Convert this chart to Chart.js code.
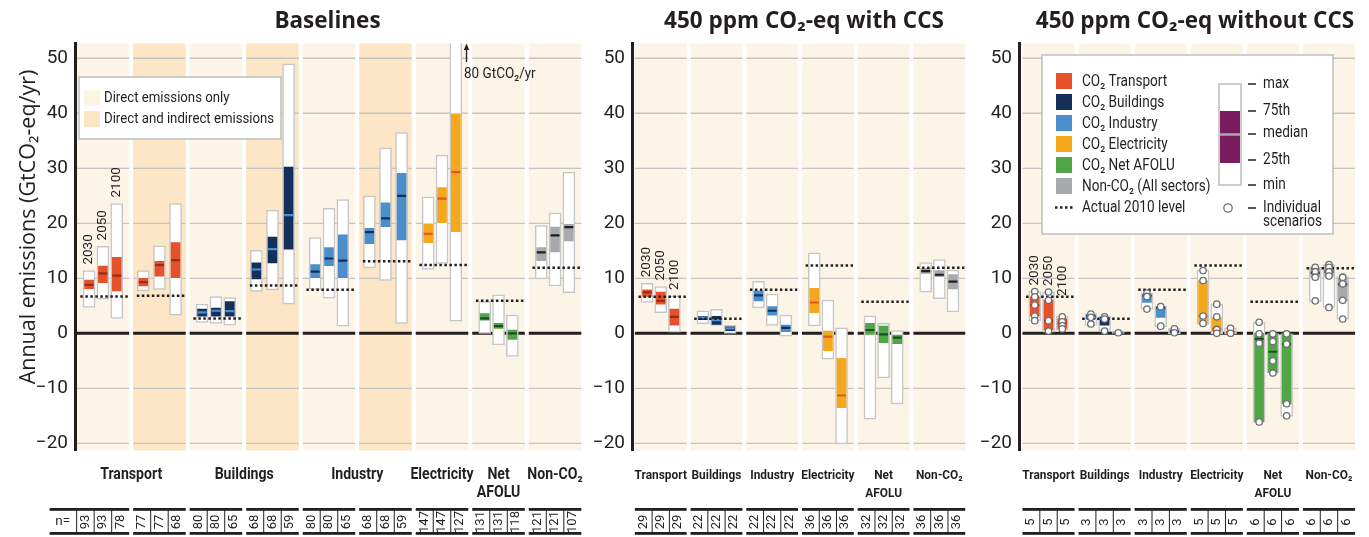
<!DOCTYPE html>
<html>
<head>
<meta charset="utf-8">
<script src="https://cdn.jsdelivr.net/npm/chart.js@4.4.1/dist/chart.umd.min.js"></script>
<style>
  html, body { margin: 0; padding: 0; background: #fff; }
  #wrap { position: relative; width: 1369px; height: 537px; overflow: hidden; }
  #wrap canvas { position: absolute; top: 0; }
</style>
</head>
<body>
<div id="wrap">
  <canvas id="baseline-chart" width="590" height="537" style="left:0px"></canvas>
  <canvas id="ccs-chart" width="385" height="537" style="left:590px"></canvas>
  <canvas id="noccs-chart" width="391" height="537" style="left:978px"></canvas>
</div>
<script>
// ---- data ----
const years = ["2030", "2050", "2100"];
const yTicks = [-20, -10, 0, 10, 20, 30, 40, 50];

// Baselines: columns = Transport (direct, indirect), Buildings (d, i), Industry (d, i), Electricity, Net AFOLU, Non-CO2
const baseSectors = ["transport", "transport", "buildings", "buildings", "industry", "industry", "electricity", "afolu", "nonco2"];
const baseIndirect = [false, true, false, true, false, true, false, false, false];
const baseMin = [[4.7, 6.2, 2.7], [7.7, 8.0, 3.3], [2.0, 1.8, 1.5], [7.6, 7.9, 5.3], [8.0, 6.4, 1.3], [11.9, 9.6, 1.8], [11.6, 12.7, 2.2], [0.0, -2.1, -4.2], [9.9, 8.6, 7.4]];
const baseQ25 = [[8.1, 9.2, 7.7], [8.6, 10.4, 10.1], [3.1, 3.1, 3.1], [9.9, 12.8, 15.3], [10.1, 12.3, 10.1], [16.3, 19.4, 17.0], [16.5, 20.1, 18.5], [2.4, 0.9, -1.1], [13.2, 14.8, 16.8]];
const baseMed = [[8.8, 10.9, 10.5], [9.3, 12.4, 13.3], [3.8, 4.1, 4.05], [11.6, 15.3, 21.5], [11.2, 13.6, 13.2], [18.4, 20.9, 25.0], [18.1, 24.5, 29.3], [2.7, 1.3, 0.0], [14.7, 17.8, 19.3]];
const baseQ75 = [[9.7, 12.2, 13.8], [10.0, 13.1, 16.5], [4.4, 4.6, 5.75], [12.8, 17.5, 30.2], [12.5, 15.6, 17.9], [19.1, 23.7, 29.1], [19.9, 26.5, 39.9], [3.6, 1.8, 0.6], [15.6, 19.3, 19.8]];
const baseMax = [[11.4, 15.8, 23.6], [11.4, 15.9, 23.6], [5.3, 6.7, 6.5], [15.1, 22.4, 49.0], [17.4, 22.7, 24.3], [25.0, 33.7, 36.5], [24.8, 32.4, 80], [5.75, 7.0, 3.3], [19.6, 21.9, 29.3]];
const base2010 = [6.7, 6.85, 2.7, 8.7, 7.9, 13.1, 12.4, 5.9, 11.9];
const baseN = [[93, 93, 78], [77, 77, 68], [80, 80, 65], [68, 68, 59], [80, 80, 65], [68, 68, 59], [147, 147, 127], [131, 131, 118], [121, 121, 107]];
const baseLabels = [["Transport"], ["Buildings"], ["Industry"], ["Electricity"], ["Net", "AFOLU"], ["Non-CO\u2082"]];
const baseLabelCols = [[0, 1], [2, 3], [4, 5], [6], [7], [8]];

// 450 ppm, sectors for the two mitigation panels
const mitSectors = ["transport", "buildings", "industry", "electricity", "afolu", "nonco2"];
const mitIndirect = [false, false, false, false, false, false];
const mitLabels = [["Transport"], ["Buildings"], ["Industry"], ["Electricity"], ["Net", "AFOLU"], ["Non-CO\u2082"]];
const mitLabelCols = [[0], [1], [2], [3], [4], [5]];

// 450 ppm with CCS
const ccsMin = [[5.6, 3.75, 0.2], [1.75, 1.45, 0.0], [4.6, 1.45, -0.5], [1.35, -4.7, -20.1], [-15.6, -8.1, -12.85], [7.5, 6.3, 3.9]];
const ccsQ25 = [[6.7, 5.3, 1.5], [2.5, 1.6, 0.5], [5.9, 3.3, 0.3], [3.75, -3.15, -13.5], [-0.2, -1.7, -1.9], [10.9, 10.3, 8.05]];
const ccsMed = [[7.45, 5.9, 3.0], [2.9, 2.4, 0.9], [6.9, 4.1, 1.0], [5.6, -0.6, -11.3], [0.6, -0.2, -0.8], [11.3, 10.65, 9.4]];
const ccsQ75 = [[7.9, 7.5, 4.4], [3.1, 3.1, 1.2], [7.7, 4.85, 1.5], [8.2, 0.4, -4.55], [1.8, 1.3, -0.3], [11.8, 11.4, 10.7]];
const ccsMax = [[9.1, 8.5, 6.8], [4.1, 4.35, 1.45], [9.45, 7.15, 3.3], [14.65, 6.05, 1.0], [3.2, 1.8, 0.5], [12.85, 13.4, 11.5]];
const ccs2010 = [6.65, 2.65, 7.9, 12.35, 5.75, 11.9];
const ccsN = [[29, 29, 29], [22, 22, 22], [22, 22, 22], [36, 36, 36], [32, 32, 32], [36, 36, 36]];

// 450 ppm without CCS
const noccsMin = [[2.3, 0.2, 0.6], [1.5, 0.4, 0.0], [4.4, 1.2, -0.1], [1.6, -0.1, -0.1], [-16.1, -7.2, -15.1], [5.75, 4.7, 2.55]];
const noccsQ25 = [[3.15, 0.6, 0.9], [2.6, 1.5, 0.0], [5.6, 2.9, 0.1], [1.8, 0.3, 0.0], [-16.1, -7.1, -12.8], [10.2, 10.3, 5.9]];
const noccsMed = [[5.15, 2.3, 1.9], [2.9, 2.6, 0.1], [6.8, 4.6, 0.3], [3.15, 0.7, 0.2], [-1.0, -3.35, -1.95], [11.0, 11.2, 8.9]];
const noccsQ75 = [[6.65, 6.05, 2.7], [3.3, 2.9, 0.2], [7.1, 4.85, 0.6], [9.55, 2.9, 0.4], [0.0, 0.0, 0.0], [11.8, 12.4, 10.0]];
const noccsMax = [[7.6, 7.5, 3.15], [3.6, 3.15, 0.2], [7.3, 4.95, 0.9], [11.5, 5.3, 1.0], [2.0, -0.1, -0.1], [12.1, 12.5, 10.3]];
const noccs2010 = [6.65, 2.65, 7.9, 12.35, 5.75, 11.85];
const noccsN = [[5, 5, 5], [3, 3, 3], [3, 3, 3], [5, 5, 5], [6, 6, 6], [6, 6, 6]];
const noccsScenarios = [
  [[7.6, 6.65, 5.15, 3.15, 2.3], [7.5, 6.0, 2.3, 0.4], [3.0, 2.1, 1.35, 0.8]],
  [[3.5, 2.9, 1.7], [3.0, 2.6, 0.4], [0.1]],
  [[7.3, 6.7, 4.4], [4.85, 1.3], [0.8, 0.1]],
  [[11.4, 9.6, 3.15, 1.8], [5.3, 3.0, 0.7, 0.0], [0.9, 0.0]],
  [[2.0, -0.1, -1.8, -16.1], [-0.1, -1.5, -5.0, -7.2], [-0.1, -1.95, -12.8, -15.0]],
  [[12.0, 11.2, 10.2, 5.9], [12.5, 12.0, 11.2, 10.4, 4.7], [10.2, 9.0, 6.0, 2.6]]
];

// ---- styles ----
const ink = "#231f20";
const font = "Roboto, 'Open Sans', sans-serif";
const titleFont = "'Open Sans', Roboto, sans-serif";
const bgDirect = "#fdf4e8";
const bgIndirect = "#fde6c6";
const gridColor = "#c4c4c4";
const boxBorder = "#c6c6c6";
const sectorFill = { transport: "#e5522a", buildings: "#152f5b", industry: "#4a8fcc", electricity: "#f6a81d", afolu: "#50a646", nonco2: "#a7a9ac" };
const sectorMedian = { transport: "#9b2b17", buildings: "#4a90d2", industry: "#152f5b", electricity: "#e5522a", afolu: "#1f4b25", nonco2: "#231f20" };
const colHalf = 0.465;

function boxX(c, indirect) {
  const s = indirect ? 0.285 : 0.245;
  return [c - s, c, c + s];
}

function txt(ctx, s, x, y, f, align, base, sx, rot) {
  ctx.save();
  ctx.translate(x, y);
  if (rot) ctx.rotate(rot);
  ctx.scale(sx || 1, 1);
  ctx.font = f;
  ctx.fillStyle = ink;
  ctx.textAlign = align || "left";
  ctx.textBaseline = base || "alphabetic";
  ctx.fillText(s, 0, 0);
  ctx.restore();
}

const px = (chart, v) => chart.scales.x.getPixelForValue(v);
const py = (chart, v) => chart.scales.y.getPixelForValue(v);

function panelPlugin(p) {
  return {
    id: "panelDecor",
    beforeDraw(chart) {
      const ctx = chart.ctx, area = chart.chartArea;
      ctx.save();
      p.sectors.forEach((s, c) => {
        const l = px(chart, c - colHalf), r = px(chart, c + colHalf);
        ctx.fillStyle = p.indirect[c] ? bgIndirect : bgDirect;
        ctx.fillRect(l, area.top, r - l, area.bottom - area.top);
        ctx.strokeStyle = gridColor;
        ctx.lineWidth = 1.3;
        yTicks.forEach(t => {
          if (t === 0) return;
          const y = py(chart, t);
          ctx.beginPath();
          ctx.moveTo(l, y);
          ctx.lineTo(r, y);
          ctx.stroke();
        });
      });
      ctx.restore();
    },
    afterDraw(chart) {
      const ctx = chart.ctx;
      // panel title
      txt(ctx, p.title, p.titleX, 28, "bold 22.5px " + titleFont, "center");
      // year labels above the first column, stepped so they never drop onto the boxes
      const xs = boxX(0, p.indirect[0]);
      let prev = Infinity;
      xs.forEach((x, i) => {
        const y = Math.min(py(chart, p.max[0][i]) - 6, prev + 10);
        prev = y;
        txt(ctx, years[i], px(chart, x), y, "13.5px " + font, "left", "middle", 1, -Math.PI / 2);
      });
      // category labels
      p.labels.forEach((lines, k) => {
        const cols = p.labelCols[k];
        const cx = cols.reduce((a, c) => a + px(chart, c), 0) / cols.length;
        lines.forEach((line, j) => {
          txt(ctx, line, cx, 479 + j * 18, "bold " + p.labelSize + "px " + font, "center", "alphabetic", 0.88);
        });
      });
      // n= table
      const top = 509.5, bot = 533.5;
      ctx.save();
      ctx.fillStyle = ink;
      p.n.forEach((row, c) => {
        const l = px(chart, c - colHalf), r = px(chart, c + colHalf);
        const w = (r - l) / 3;
        let lineL = l;
        if (c === 0 && p.nLabel) {
          lineL = l - 27;
          ctx.fillRect(l - 0.5, top, 1, bot - top);
          txt(ctx, "n=", l - 14, (top + bot) / 2, "13.5px " + font, "center", "middle");
          ctx.fillStyle = ink;
        }
        ctx.fillRect(lineL, top - 1.5, r - lineL, 2.8);
        ctx.fillRect(lineL, bot - 1.5, r - lineL, 2.8);
        ctx.fillRect(l + w - 0.5, top, 1, bot - top);
        ctx.fillRect(l + 2 * w - 0.5, top, 1, bot - top);
        row.forEach((v, i) => {
          txt(ctx, String(v), l + w * (i + 0.5), (top + bot) / 2 + 0.5, "13px " + font, "center", "middle", 1, -Math.PI / 2);
        });
      });
      ctx.restore();
      if (p.extra) p.extra(chart);
    }
  };
}

function makeChart(id, p) {
  const datasets = [];
  p.sectors.forEach((s, c) => {
    const xs = boxX(c, p.indirect[c]);
    datasets.push({
      type: "bar", order: 6, grouped: false, barThickness: 12,
      data: xs.map((x, i) => ({ x, y: [p.min[c][i], p.max[c][i]] })),
      backgroundColor: "#ffffff", borderColor: boxBorder, borderWidth: 1.5, borderSkipped: false
    });
    datasets.push({
      type: "bar", order: 5, grouped: false, barThickness: 9,
      data: xs.map((x, i) => ({ x, y: [p.q25[c][i], p.q75[c][i]] })),
      backgroundColor: sectorFill[s], borderWidth: 0
    });
    datasets.push({
      type: "scatter", order: 4,
      data: xs.map((x, i) => ({ x, y: p.med[c][i] })),
      pointStyle: "line", pointRadius: 4.5, pointBorderWidth: 2.2,
      pointBorderColor: sectorMedian[s], borderColor: sectorMedian[s]
    });
  });
  const zero = [], dots = [];
  p.sectors.forEach((s, c) => {
    zero.push({ x: c - colHalf, y: 0 }, { x: c + colHalf, y: 0 }, { x: c + 0.5, y: null });
    dots.push({ x: c - 0.4, y: p.level[c] }, { x: c + 0.45, y: p.level[c] }, { x: c + 0.5, y: null });
  });
  datasets.push({ type: "line", order: 7, data: zero, borderColor: ink, borderWidth: 3, pointRadius: 0, spanGaps: false, borderCapStyle: "butt" });
  datasets.push({ type: "line", order: 3, data: dots, borderColor: ink, borderWidth: 2.5, borderDash: [2.5, 2.5], pointRadius: 0, spanGaps: false, borderCapStyle: "butt" });
  if (p.points) {
    const pts = [];
    p.points.forEach((col, c) => {
      const xs = boxX(c, p.indirect[c]);
      col.forEach((arr, i) => arr.forEach(v => pts.push({ x: xs[i], y: v })));
    });
    datasets.push({
      type: "scatter", order: 1, data: pts, pointStyle: "circle", pointRadius: 3.2,
      pointBackgroundColor: "#ffffff", pointBorderColor: "#6d6e71", pointBorderWidth: 1.3
    });
  }
  return new Chart(document.getElementById(id).getContext("2d"), {
    type: "bar",
    data: { datasets },
    options: {
      responsive: false,
      animation: false,
      devicePixelRatio: 1,
      events: [],
      layout: { padding: { top: 43.4, bottom: 86.5, left: 0, right: p.padRight } },
      plugins: { legend: { display: false }, tooltip: { enabled: false }, title: { display: false } },
      scales: {
        x: { type: "linear", min: p.xMin, max: p.xMax, offset: false, display: false },
        y: {
          min: -21.3, max: 52.7,
          afterBuildTicks: s => { s.ticks = yTicks.map(v => ({ value: v })); },
          afterFit: s => { s.width = p.axisWidth; },
          grid: { display: false, drawTicks: false },
          border: { display: true, width: 3, color: ink },
          ticks: {
            color: ink, padding: 7, font: { family: "Roboto", size: 19 },
            callback: v => (v < 0 ? "\u2212" + Math.abs(v) : String(v))
          }
        }
      }
    },
    plugins: [panelPlugin(p)]
  });
}

// ---- panel 1: baselines ----
makeChart("baseline-chart", {
  title: "Baselines", titleX: 327.5,
  sectors: baseSectors, indirect: baseIndirect,
  min: baseMin, q25: baseQ25, med: baseMed, q75: baseQ75, max: baseMax, level: base2010, n: baseN,
  labels: baseLabels, labelCols: baseLabelCols, labelSize: 16, nLabel: true,
  xMin: -0.494, xMax: 8.5, axisWidth: 75, padRight: 5,
  extra(chart) {
    const ctx = chart.ctx;
    // y axis title
    txt(ctx, "Annual emissions (GtCO\u2082-eq/yr)", 29, 227, "21.5px " + titleFont, "center", "middle", 1, -Math.PI / 2);
    // sector-boundary legend
    ctx.save();
    ctx.fillStyle = "#ffffff";
    ctx.strokeStyle = "#bcbec0";
    ctx.lineWidth = 1.5;
    ctx.fillRect(79, 77, 202, 62);
    ctx.strokeRect(79, 77, 202, 62);
    ctx.fillStyle = bgDirect;
    ctx.fillRect(84, 90, 16, 16);
    ctx.fillStyle = bgIndirect;
    ctx.fillRect(84, 111, 16, 16);
    ctx.restore();
    txt(ctx, "Direct emissions only", 104, 98.5, "15px " + font, "left", "middle", 0.88);
    txt(ctx, "Direct and indirect emissions", 104, 119.5, "15px " + font, "left", "middle", 0.88);
    // off-scale electricity 2100 maximum
    ctx.save();
    ctx.strokeStyle = ink;
    ctx.fillStyle = ink;
    ctx.lineWidth = 1.3;
    ctx.beginPath();
    ctx.moveTo(466.5, 62);
    ctx.lineTo(466.5, 48);
    ctx.stroke();
    ctx.beginPath();
    ctx.moveTo(466.5, 43.5);
    ctx.lineTo(463.8, 50);
    ctx.lineTo(469.2, 50);
    ctx.closePath();
    ctx.fill();
    ctx.restore();
    txt(ctx, "80 GtCO\u2082/yr", 464, 78, "15px " + font, "left", "alphabetic", 0.9);
  }
});

// ---- panel 2: 450 ppm with CCS ----
makeChart("ccs-chart", {
  title: "450 ppm CO\u2082-eq with CCS", titleX: 214,
  sectors: mitSectors, indirect: mitIndirect,
  min: ccsMin, q25: ccsQ25, med: ccsMed, q75: ccsQ75, max: ccsMax, level: ccs2010, n: ccsN,
  labels: mitLabels, labelCols: mitLabelCols, labelSize: 13.5, nLabel: false,
  xMin: -0.516, xMax: 5.52, axisWidth: 42, padRight: 3.8
});

// ---- panel 3: 450 ppm without CCS ----
makeChart("noccs-chart", {
  title: "450 ppm CO\u2082-eq without CCS", titleX: 217,
  sectors: mitSectors, indirect: mitIndirect,
  min: noccsMin, q25: noccsQ25, med: noccsMed, q75: noccsQ75, max: noccsMax, level: noccs2010, n: noccsN,
  points: noccsScenarios,
  labels: mitLabels, labelCols: mitLabelCols, labelSize: 13.5, nLabel: false,
  xMin: -0.526, xMax: 5.53, axisWidth: 41, padRight: 10.3,
  extra(chart) {
    const ctx = chart.ctx;
    ctx.save();
    ctx.fillStyle = "#ffffff";
    ctx.strokeStyle = "#bcbec0";
    ctx.lineWidth = 1.5;
    ctx.fillRect(64, 55, 291, 179);
    ctx.strokeRect(64, 55, 291, 179);
    const names = ["CO\u2082 Transport", "CO\u2082 Buildings", "CO\u2082 Industry", "CO\u2082 Electricity", "CO\u2082 Net AFOLU", "Non-CO\u2082 (All sectors)"];
    mitSectors.forEach((s, i) => {
      ctx.fillStyle = sectorFill[s];
      ctx.fillRect(78, 73 + i * 21, 16, 16);
    });
    // dotted 2010 sample
    ctx.strokeStyle = ink;
    ctx.lineWidth = 2.5;
    ctx.setLineDash([2.5, 2.5]);
    ctx.beginPath();
    ctx.moveTo(77, 207.5);
    ctx.lineTo(95, 207.5);
    ctx.stroke();
    ctx.setLineDash([]);
    // box key
    ctx.lineWidth = 1.5;
    ctx.strokeStyle = "#bcbec0";
    ctx.fillStyle = "#ffffff";
    ctx.fillRect(241, 84, 22, 101);
    ctx.strokeRect(241, 84, 22, 101);
    ctx.fillStyle = "#7b1c5e";
    ctx.fillRect(242, 111, 20, 52);
    ctx.strokeStyle = "#a7a9ac";
    ctx.lineWidth = 2.5;
    ctx.beginPath();
    ctx.moveTo(242, 134.5);
    ctx.lineTo(262, 134.5);
    ctx.stroke();
    // dashes
    ctx.strokeStyle = ink;
    ctx.lineWidth = 1.5;
    [84, 111, 134, 160, 185, 208].forEach(y => {
      ctx.beginPath();
      ctx.moveTo(270, y);
      ctx.lineTo(278, y);
      ctx.stroke();
    });
    // scenario marker
    ctx.fillStyle = "#ffffff";
    ctx.strokeStyle = "#6d6e71";
    ctx.lineWidth = 1.3;
    ctx.beginPath();
    ctx.arc(250, 208, 4.2, 0, Math.PI * 2);
    ctx.fill();
    ctx.stroke();
    ctx.restore();
    names.forEach((n, i) => txt(ctx, n, 104, 81.5 + i * 21, "16px " + font, "left", "middle", 0.85));
    txt(ctx, "Actual 2010 level", 104, 207.5, "16px " + font, "left", "middle", 0.85);
    [["max", 84], ["75th", 111], ["median", 133], ["25th", 160], ["min", 185], ["Individual", 207.5], ["scenarios", 222]].forEach(([s, y]) => {
      txt(ctx, s, 285, y, "16px " + font, "left", "middle", 0.85);
    });
  }
});
</script>
</body>
</html>
